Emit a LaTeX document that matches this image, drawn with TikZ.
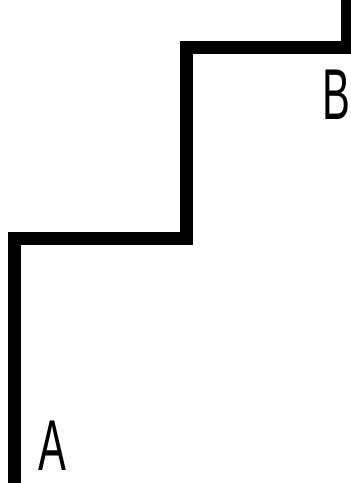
\documentclass[tikz,border=0pt]{standalone}
\usepackage{fontspec}
\setsansfont{Liberation Sans}
\usetikzlibrary{positioning}

\begin{document}
\begin{tikzpicture}[x=1pt, y=-1pt]
        \tikzset{
            stair/.style={draw, line width=13pt, line cap=butt, line join=miter},
            letter/.style={font=\sffamily\fontsize{72}{72}\selectfont, inner sep=0pt, xscale=0.58},
        }
        \useasboundingbox (0,0) rectangle (351,483);

        % Corners of the stairs
        \coordinate (start) at (14,490);
        \coordinate (c1) at (14,238);
        \coordinate (c2) at (186,238);
        \coordinate (c3) at (186,47);
        \coordinate (c4) at (347,47);
        \coordinate (stop) at (347,-10);

        % Path
        \draw [stair] (start) -- (c1) -- (c2) -- (c3) -- (c4) -- (stop);

        % Labels
        \node [letter, anchor=base west] (a) at (38,470) {A};
        \node [letter, anchor=base west] (b) at (322,119) {B};
    \end{tikzpicture}
\end{document}
